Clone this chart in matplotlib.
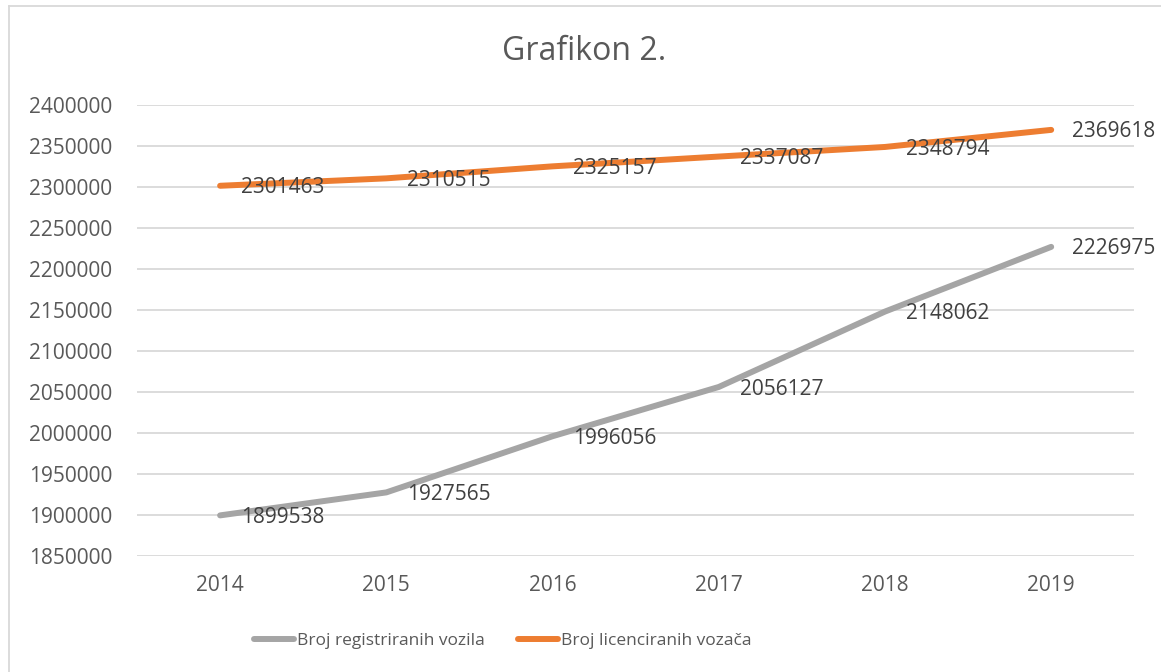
import matplotlib
matplotlib.use("Agg")
import matplotlib.pyplot as plt
from matplotlib.lines import Line2D

# data
years = ["2014", "2015", "2016", "2017", "2018", "2019"]
vozila = [1899538, 1927565, 1996056, 2056127, 2148062, 2226975]
vozaca = [2301463, 2310515, 2325157, 2337087, 2348794, 2369618]
series_names = ["Broj registriranih vozila", "Broj licenciranih vozača"]
yticks = list(range(1850000, 2400001, 50000))

GRAY, ORANGE = "#A5A5A5", "#ED7D31"
TXT, LBL = "#595959", "#404040"
plt.rcParams["font.family"] = ["Open Sans", "DejaVu Sans"]

fig = plt.figure(figsize=(11.61, 6.72), dpi=100)
ax = fig.add_axes([0.118, 0.1726, 0.859, 0.6712])
xs = list(range(len(years)))

for vals, col in ((vozila, GRAY), (vozaca, ORANGE)):
    ax.plot(xs, vals, color=col, lw=4.3, solid_capstyle="round", zorder=3)
    for x, v in zip(xs, vals):
        ax.annotate(str(v), (x, v), textcoords="offset points", xytext=(15, -1.5),
                    ha="left", va="center", fontsize=15, color=LBL, zorder=4)

ax.set_xlim(-0.5, len(years) - 0.5)
ax.set_ylim(yticks[0], yticks[-1])
ax.set_yticks(yticks)
ax.set_yticklabels([str(t) for t in yticks])
ax.set_xticks(xs)
ax.set_xticklabels(years)
ax.tick_params(length=0, labelsize=15, labelcolor=TXT)
ax.tick_params(axis="y", pad=18)
ax.tick_params(axis="x", pad=14)
ax.grid(axis="y", color="#D9D9D9", lw=1.3)
ax.set_axisbelow(True)
for s in ax.spines.values():
    s.set_visible(False)

fig.text(0.503, 0.923, "Grafikon 2.", ha="center", va="center", fontsize=23, color=TXT)

handles = [Line2D([], [], color=GRAY, lw=4.3, solid_capstyle="round"),
           Line2D([], [], color=ORANGE, lw=4.3, solid_capstyle="round")]
fig.legend(handles, series_names, loc="center", bbox_to_anchor=(0.433, 1 - 641 / 672), ncol=2,
           frameon=False, fontsize=12.5, labelcolor=TXT, handlelength=2.3,
           handletextpad=0.2, columnspacing=1.9)

# chart frame (only left/top edges visible in the crop)
fig.add_artist(Line2D([9 / 1161, 9 / 1161], [0, 1 - 6 / 672], transform=fig.transFigure, color="#D9D9D9", lw=1.3))
fig.add_artist(Line2D([9 / 1161, 1], [1 - 6 / 672, 1 - 6 / 672], transform=fig.transFigure, color="#D9D9D9", lw=1.3))

fig.savefig("out.png", dpi=100)
